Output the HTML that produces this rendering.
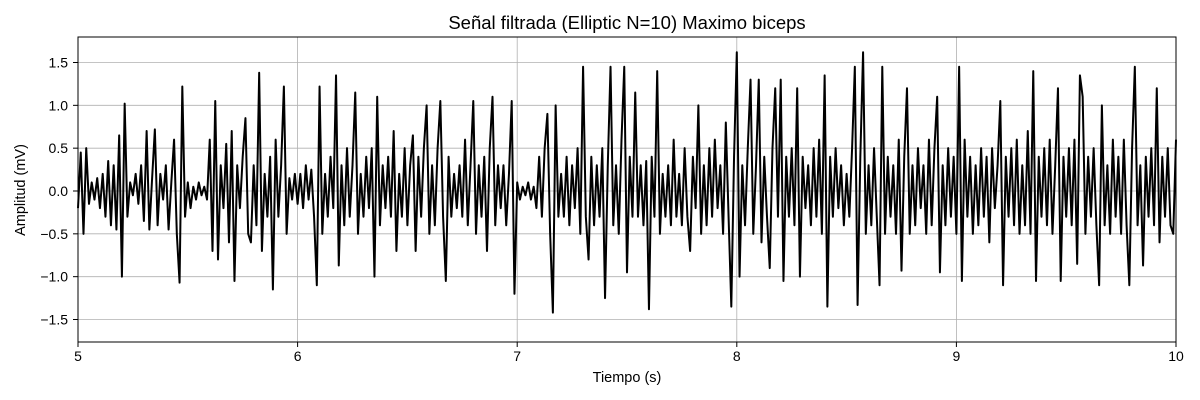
<!DOCTYPE html>
<html><head><meta charset="utf-8"><style>
body{margin:0;background:#fff;}
svg{display:block;font-family:"Liberation Sans","DejaVu Sans",sans-serif;}
</style></head><body>
<svg id="chart" width="1200" height="400">
<rect width="1200" height="400" fill="#fff"/>
<text x="627" y="29" font-size="18.5" text-anchor="middle">Señal filtrada (Elliptic N=10) Maximo biceps</text>
<g id="grid"></g>
<g id="series"></g>
<rect x="78" y="37" width="1098" height="305" fill="none" stroke="#000" stroke-width="1"/>
<g id="axes"></g>
<text x="627" y="382" font-size="14.5" text-anchor="middle">Tiempo (s)</text>
<text x="25" y="190" font-size="14.5" text-anchor="middle" transform="rotate(-90 25 190)">Amplitud (mV)</text>
</svg>
<script>
const xTicks=[5,6,7,8,9,10];
const yTicks=[-1.5,-1.0,-0.5,0.0,0.5,1.0,1.5];
const yTickLabels=["−1.5","−1.0","−0.5","0.0","0.5","1.0","1.5"];
const tStart=5, tEnd=10;
const amplitude=[
-0.2,0.45,-0.5,0.5,-0.15,0.1,-0.1,0.15,-0.2,0.2,-0.3,0.35,-0.4,0.3,-0.45,0.65,-1.0,1.02,-0.3,0.1,
-0.05,0.2,-0.15,0.3,-0.35,0.7,-0.45,0.15,0.72,-0.4,0.2,-0.1,0.3,-0.45,0.1,0.6,-0.5,-1.07,1.22,-0.3,
0.1,-0.2,0.05,-0.1,0.1,-0.05,0.05,-0.1,0.6,-0.7,1.05,-0.8,0.3,-0.2,0.55,-0.6,0.7,-1.05,0.3,-0.2,
0.4,0.85,-0.5,-0.6,0.3,-0.4,1.38,-0.7,0.2,-0.3,0.4,-1.15,0.6,-0.3,0.3,1.22,-0.5,0.15,-0.1,0.2,
-0.15,0.2,-0.2,0.3,-0.1,0.25,-0.3,-1.1,1.22,-0.5,0.2,-0.3,0.4,-0.2,1.35,-0.87,0.3,-0.4,0.5,-0.3,
0.3,1.15,-0.5,0.2,-0.3,0.4,-0.2,0.5,-1.0,1.1,-0.4,0.3,-0.2,0.4,-0.3,0.7,-0.7,0.2,-0.3,0.5,
-0.4,0.3,0.65,-0.7,0.4,-0.3,0.5,1.0,-0.5,0.3,-0.4,0.5,1.05,-0.3,-1.05,0.4,-0.3,0.2,-0.2,0.3,
-0.3,0.6,-0.4,0.3,1.05,-0.5,0.3,-0.3,0.4,-0.7,0.5,1.1,-0.4,0.3,-0.2,0.3,-0.4,0.2,1.05,-1.2,
0.1,-0.1,0.05,-0.05,0.1,-0.1,0.05,-0.2,0.4,-0.3,0.5,0.9,-0.5,-1.42,1.0,-0.3,0.2,-0.3,0.4,-0.4,
0.3,-0.2,0.5,-0.5,1.45,-0.3,-0.8,0.4,-0.4,0.3,-0.3,0.5,-1.25,0.3,1.45,-0.4,0.3,-0.5,0.6,1.45,
-0.95,0.4,-0.3,1.15,-0.3,0.3,-0.4,0.35,-1.38,0.4,-0.3,1.4,-0.5,0.2,-0.3,0.3,-0.4,0.6,-0.3,0.2,
-0.4,0.5,-0.3,-0.7,0.4,-0.2,1.0,-0.5,0.3,-0.4,0.5,-0.3,0.6,-0.2,0.3,-0.5,0.8,-0.3,-1.35,0.4,
1.62,-1.0,0.3,-0.4,0.5,1.3,-0.5,0.3,1.3,-0.6,0.4,-0.3,-0.9,0.5,1.2,-0.3,1.3,-1.05,0.4,-0.3,
0.5,-0.4,1.2,-1.0,0.4,-0.2,0.3,-0.4,0.5,-0.3,0.6,-0.5,1.35,-1.35,0.4,-0.3,0.5,-0.2,0.3,-0.4,
0.2,-0.3,0.5,1.45,-1.33,0.4,1.62,-0.5,0.3,-0.4,0.5,-0.3,-1.1,1.45,-0.5,0.4,-0.3,0.3,-0.5,0.6,
-0.93,0.4,1.2,-0.5,0.3,-0.4,0.5,-0.2,0.3,-0.5,0.6,-0.4,0.5,1.1,-0.95,0.3,-0.4,0.5,-0.3,0.4,
-0.5,1.45,-1.05,0.6,-0.3,0.4,-0.5,0.3,-0.4,0.5,-0.3,0.4,-0.6,0.5,-0.2,0.3,1.05,-1.1,0.4,-0.3,
0.5,-0.4,0.6,-0.5,0.3,-0.4,0.7,-0.5,1.4,-1.05,0.4,-0.3,0.5,-0.4,0.6,-0.5,0.3,1.2,-1.05,0.4,
-0.3,0.5,-0.4,0.6,-0.85,1.35,1.1,-0.5,0.4,-0.3,0.5,-0.4,-1.1,1.0,-0.4,0.3,-0.5,0.6,-0.3,0.4,
-0.5,0.6,-0.4,-1.1,0.5,1.45,-0.4,0.3,-0.87,0.4,-0.3,0.5,-0.4,1.2,-0.6,0.4,-0.3,0.5,-0.4,-0.5,
0.6];
const NS="http://www.w3.org/2000/svg";
const X0=78,X1=1176,Y0=342,Y1=37;
const xScale=t=>X0+(t-5)/(10-5)*(X1-X0);
const yScale=v=>191-v*(128.5/1.5);
const grid=document.getElementById('grid'),axes=document.getElementById('axes'),series=document.getElementById('series');
function mk(tag,attrs,parent){const e=document.createElementNS(NS,tag);for(const k in attrs)e.setAttribute(k,attrs[k]);parent.appendChild(e);return e;}
xTicks.forEach(t=>{
 const x=xScale(t);
 const g=mk('line',{x1:x,x2:x,y1:Y1,y2:Y0,stroke:'#b0b0b0','stroke-width':0.8},grid);
 
 
 const tk=mk('line',{x1:x,x2:x,y1:Y0,y2:Y0+5,stroke:'#000','stroke-width':1},axes);
 
 
 const lb=mk('text',{x:x,y:Y0+19,'font-size':14,'text-anchor':'middle'},axes);
 lb.textContent=String(t);
 
 
});
yTicks.forEach((v,i)=>{
 const y=yScale(v);
 const g=mk('line',{x1:X0,x2:X1,y1:y,y2:y,stroke:'#b0b0b0','stroke-width':0.8},grid);
 
 
 const tk=mk('line',{x1:X0-5,x2:X0,y1:y,y2:y,stroke:'#000','stroke-width':1},axes);
 
 
 const lb=mk('text',{x:X0-10,y:y+5,'font-size':14,'text-anchor':'end'},axes);
 lb.textContent=yTickLabels[i];
 
 
});
const n=amplitude.length;
const pts=amplitude.map((v,i)=>{const t=tStart+(tEnd-tStart)*i/(n-1);return xScale(t).toFixed(2)+','+yScale(v).toFixed(2);});
const pl=mk('polyline',{points:pts.join(' '),fill:'none',stroke:'#000','stroke-width':2,'stroke-linejoin':'round'},series);


</script>
</body></html>
